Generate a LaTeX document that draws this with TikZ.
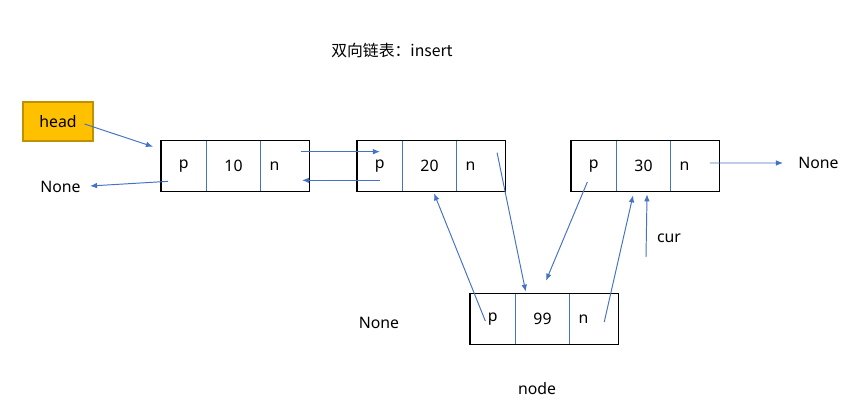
\documentclass[tikz,border=0pt]{standalone}
\usepackage{fontspec}
\setmainfont{Noto Sans}
\newfontfamily\cjk{Noto Sans CJK SC}
\usetikzlibrary{positioning,arrows.meta}
\definecolor{linkblue}{HTML}{4472C4}
\definecolor{headfill}{HTML}{FFC000}
\definecolor{headdraw}{HTML}{BF9000}
\tikzset{
  cell/.style={minimum height=1cm,inner sep=0pt,anchor=west,font=\fontsize{9}{11}\selectfont},
  pcell/.style={cell,minimum width=0.9cm},
  vcell/.style={cell,minimum width=1.06cm},
  ncell/.style={cell,inner xsep=0.18cm,text width=0.6cm,align=left},
  link/.style={-{Latex[length=4pt,width=3.2pt]},linkblue,line width=0.55pt},
  plain/.style={inner sep=0pt,font=\fontsize{9}{11}\selectfont},
}
\begin{document}
\begin{tikzpicture}[x=0.02cm,y=-0.02cm]
\useasboundingbox (0,0) rectangle (863,406);

\node [plain] (title) at (392,50) {\cjk 双向链表：insert};

\node [plain,minimum width=1.4cm,minimum height=0.78cm,fill=headfill,draw=headdraw,line width=0.6pt] (head) at (58,121.5) {head};

% list nodes
\node [pcell] (p1) at (161,166) {p};
\node [vcell] (v1) at (p1.east) {10};
\node [ncell] (n1) at (v1.east) {n};

\node [pcell] (p2) at (357,166) {p};
\node [vcell] (v2) at (p2.east) {20};
\node [ncell] (n2) at (v2.east) {n};

\node [pcell] (p3) at (571,166) {p};
\node [vcell] (v3) at (p3.east) {30};
\node [ncell] (n3) at (v3.east) {n};

\node [pcell] (p4) at (470,319) {p};
\node [vcell] (v4) at (p4.east) {99};
\node [ncell] (n4) at (v4.east) {n};

\foreach \i in {1,...,4}{
  \draw [black,line width=0.6pt] (p\i.north west) rectangle (n\i.south east);
  \draw [linkblue,line width=0.6pt] (v\i.north west) -- (v\i.south west);
  \draw [linkblue,line width=0.6pt] (n\i.north west) -- (n\i.south west);
}

\node [plain,anchor=east] (none1) at (81,187) {None};
\node [plain,anchor=west] (none2) at (798,163) {None};
\node [plain] (none3) at (379,323) {None};
\node [plain] (cur) at (669,238) {cur};
\node [plain] (nodelabel) at (537,389) {node};
\coordinate (curtail) at (646,257);

\draw [link] ([xshift=-0.18cm,yshift=-0.05cm]head.east) -- ([xshift=-0.16cm,yshift=-0.12cm]p1.north west);
\draw [link] ([xshift=-0.16cm,yshift=-0.22cm]n1.north east) -- ([xshift=0.46cm,yshift=-0.22cm]p2.north west);
\draw [link] ([xshift=0.46cm,yshift=0.22cm]p2.south west) -- ([xshift=-0.14cm,yshift=0.22cm]n1.south east);
\draw [link] ([xshift=0.14cm,yshift=0.2cm]p1.south west) -- ([xshift=0.18cm,yshift=0.02cm]none1.east);
\draw [link] ([xshift=-0.16cm,yshift=-0.24cm]n2.north east) -- ([xshift=0.2cm,yshift=0.04cm]v4.north west);
\draw [link] ([xshift=-0.15cm,yshift=-0.04cm]p4.center) -- ([xshift=0.09cm,yshift=-0.04cm]v2.south);
\draw [link] ([xshift=-0.13cm,yshift=-0.32cm]p3.center) -- ([xshift=0.07cm,yshift=0.26cm]v4.north);
\draw [link] ([xshift=0.21cm,yshift=-0.06cm]n4.center) -- ([xshift=-0.21cm,yshift=-0.08cm]v3.south);
\draw [link] (curtail) -- ([xshift=0.07cm,yshift=-0.06cm]v3.south);
\draw [link] ([xshift=-0.18cm,yshift=0.06cm]n3.east) -- ([xshift=-0.3cm]none2.west);

\end{tikzpicture}
\end{document}
